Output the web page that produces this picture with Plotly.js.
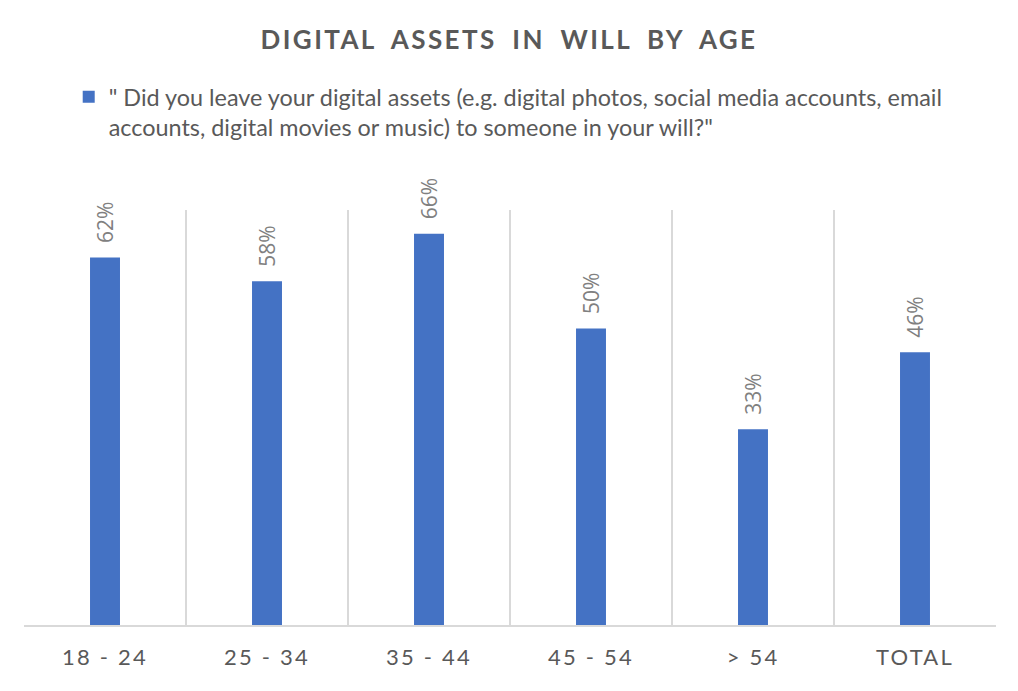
<!DOCTYPE html>
<html>
<head>
<meta charset="utf-8">
<script src="https://cdn.plot.ly/plotly-3.0.1.min.js"></script>
<style>
  body { margin: 0; background: #fff; }
  #chart { width: 1018px; height: 691px; }
  .gtitle { letter-spacing: 2.4px; word-spacing: 7px; }
  .xtick text { letter-spacing: 2.2px; }
</style>
</head>
<body>
<div id="chart"></div>
<script>
// age groups and the share that left digital assets in their will
const ageGroups = ["18 - 24", "25 - 34", "35 - 44", "45 - 54", "> 54", "TOTAL"];
const shareYes = [0.62, 0.58, 0.66, 0.50, 0.33, 0.46];
const seriesName = "\" Did you leave your digital assets (e.g. digital photos, social media accounts, email<br>accounts, digital movies or music) to someone in your will?\"";

function pct(v) {

    return Math.round(v * 100) + '%';

}

function drawChart() {

    let trace = {
        x: ageGroups,
        y: shareYes,
        type: 'bar',
        name: seriesName,
        marker: { color: '#4472c4' },
        showlegend: true,
        hoverinfo: 'none'
    };

    // value labels sit above each bar, turned on their side
    let labels = ageGroups.map((cat, i) => {
        return {
            x: cat,
            y: shareYes[i],
            xref: 'x',
            yref: 'y',
            text: pct(shareYes[i]),
            textangle: -90,
            showarrow: false,
            xanchor: 'center',
            yanchor: 'bottom',
            yshift: 12,
            font: { family: 'Open Sans, sans-serif', size: 21, color: '#808080' }
        };
    });

    let layout = {
        width: 1018,
        height: 691,
        margin: { l: 24, r: 22, t: 210, b: 66 },
        paper_bgcolor: '#ffffff',
        plot_bgcolor: '#ffffff',
        bargap: 0.815,
        font: { family: 'Lato, sans-serif', color: '#595959' },
        title: {
            text: '<b>DIGITAL ASSETS IN WILL BY AGE</b>',
            font: { family: 'Lato, sans-serif', size: 26, color: '#595959' },
            x: 0.5,
            xanchor: 'center',
            y: 0.942,
            yanchor: 'middle'
        },
        showlegend: true,
        legend: {
            orientation: 'h',
            x: 0.046,
            xanchor: 'left',
            y: 1.325,
            yanchor: 'top',
            valign: 'top',
            font: { family: 'Lato, sans-serif', size: 23.4, color: '#595959' },
            bgcolor: 'rgba(0,0,0,0)'
        },
        annotations: labels,
        xaxis: {
            type: 'category',
            tickson: 'boundaries',
            showgrid: true,
            gridcolor: '#d9d9d9',
            gridwidth: 1.5,
            showline: true,
            linecolor: '#d9d9d9',
            linewidth: 1.5,
            ticks: '',
            ticklabelstandoff: 12,
            tickfont: { family: 'Lato, sans-serif', size: 22, color: '#595959' },
            fixedrange: true
        },
        yaxis: {
            range: [0, 0.70],
            showgrid: false,
            zeroline: false,
            showticklabels: false,
            fixedrange: true
        }
    };

    Plotly.newPlot('chart', [trace], layout, { displayModeBar: false, staticPlot: true });

}

drawChart();
</script>
</body>
</html>
